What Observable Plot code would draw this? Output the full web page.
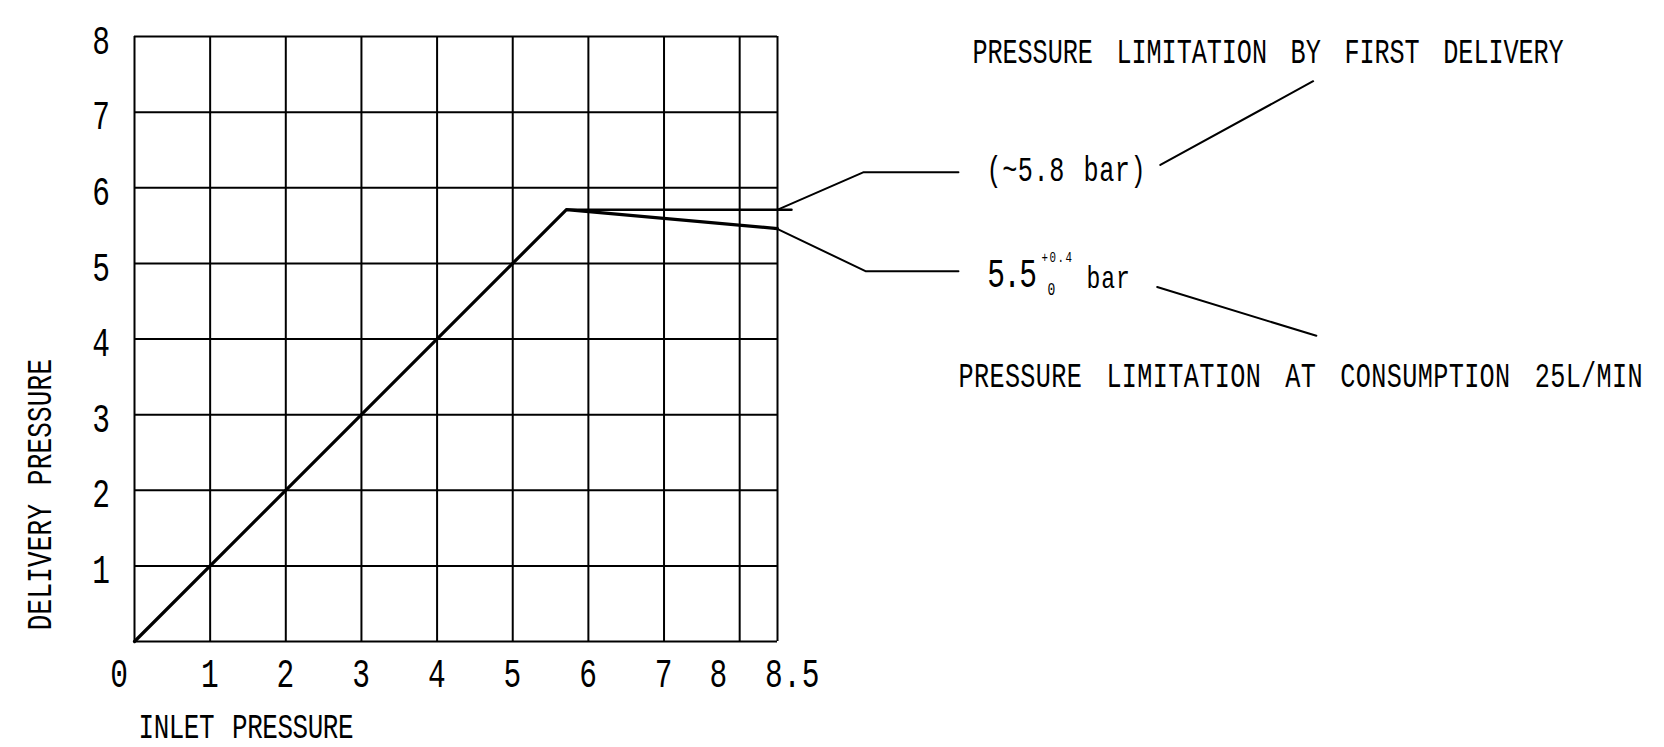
<!DOCTYPE html>
<html>
<head>
<meta charset="utf-8">
<script src="https://cdn.jsdelivr.net/npm/d3@7"></script>
<script src="https://cdn.jsdelivr.net/npm/@observablehq/plot@0.6"></script>
<style>
  html, body { margin: 0; padding: 0; background: #fff; }
  svg { display: block; }
</style>
</head>
<body>
<script>
// ---- data ----
const xGrid = [0, 1, 2, 3, 4, 5, 6, 7, 8, 8.5];
const yGrid = [0, 1, 2, 3, 4, 5, 6, 7, 8];
const xTickMain = [1, 2, 3, 4, 5, 6, 7];
const xTickMainLabels = ["1", "2", "3", "4", "5", "6", "7"];
const yTickValues = [1, 2, 3, 4, 5, 6, 7, 8];
const yTickLabels = ["1", "2", "3", "4", "5", "6", "7", "8"];

// characteristic curve: inlet pressure -> delivery pressure
const inletPressure = [0, 5.71, 8.5];
const deliveryPressure = [0, 5.71, 5.46];

// limitation by first delivery (horizontal reference)
const firstDeliveryX = [5.71, 8.685];
const firstDeliveryY = [5.71, 5.71];

// leader lines (in chart units)
const leaderUpperX = [8.496, 9.64, 10.892];
const leaderUpperY = [5.708, 6.206, 6.206];
const leaderLowerX = [8.496, 9.663, 10.892];
const leaderLowerY = [5.457, 4.897, 4.897];
const pointerUpperX = [13.561, 15.581];
const pointerUpperY = [6.301, 7.409];
const pointerLowerX = [13.519, 15.623];
const pointerLowerY = [4.688, 4.042];

const titleX = "INLET PRESSURE";
const titleY = "DELIVERY PRESSURE";
const noteTop = "PRESSURE LIMITATION BY FIRST DELIVERY";
const noteBottom = "PRESSURE LIMITATION AT CONSUMPTION 25L/MIN";
const noteFirst = "(~5.8 bar)";
const noteNominal = "5.5";
const noteTolUp = "+0.4";
const noteTolDown = "0";
const noteUnit = "bar";

const pairs = (xs, ys) => xs.map((x, i) => [x, ys[i]]);

const FONT = "Liberation Mono";
const INK = "#000";

const svg = Plot.plot({
  width: 1664,
  height: 747,
  marginLeft: 134,
  marginRight: 887,
  marginTop: 36,
  marginBottom: 106,
  style: { background: "#fff", fontFamily: FONT, color: INK },
  x: { domain: [0, 8.5], axis: null },
  y: { domain: [0, 8], axis: null },
  marks: [
    Plot.ruleX(xGrid, { stroke: INK, strokeWidth: 2 }),
    Plot.ruleY(yGrid, { stroke: INK, strokeWidth: 2 }),
    Plot.line(pairs(inletPressure, deliveryPressure), { stroke: INK, strokeWidth: 3.2, strokeLinejoin: "miter" }),
    Plot.line(pairs(firstDeliveryX, firstDeliveryY), { stroke: INK, strokeWidth: 2.5 }),
    Plot.line(pairs(leaderUpperX, leaderUpperY), { stroke: INK, strokeWidth: 2 }),
    Plot.line(pairs(leaderLowerX, leaderLowerY), { stroke: INK, strokeWidth: 2 }),
    Plot.line(pairs(pointerUpperX, pointerUpperY), { stroke: INK, strokeWidth: 2 }),
    Plot.line(pairs(pointerLowerX, pointerLowerY), { stroke: INK, strokeWidth: 2 }),

    // y tick labels
    Plot.text(yTickValues, { x: 0, y: d => d, text: (d, i) => yTickLabels[i], dx: -33, dy: 4, fontSize: 41, fill: INK, ariaDescription: "ticks" }),
    // x tick labels
    Plot.text(xTickMain, { x: d => d, y: 0, text: (d, i) => xTickMainLabels[i], dy: 32, fontSize: 41, fill: INK, ariaDescription: "ticks" }),
    Plot.text([0], { x: d => d, y: 0, text: ["0"], dx: -15, dy: 32, fontSize: 41, fill: INK, ariaDescription: "ticks" }),
    Plot.text([8], { x: d => d, y: 0, text: ["8"], dx: -21, dy: 32, fontSize: 41, fill: INK, ariaDescription: "ticks" }),
    Plot.text([8.5], { x: d => d, y: 0, text: ["8.5"], dx: 15, dy: 32, fontSize: 41, fill: INK, ariaDescription: "ticks" }),

    // axis titles
    Plot.text([titleX], { x: 0.053, y: -1.124, text: d => d, textAnchor: "start", fontSize: 36, fill: INK, ariaDescription: "titleX" }),
    Plot.text([titleY], { x: -1.256, y: 1.944, text: d => d, rotate: -90, fontSize: 36, fill: INK, ariaDescription: "titleY" }),

    // annotations
    Plot.text([noteTop], { x: 11.077, y: 7.802, text: d => d, textAnchor: "start", fontSize: 35, fill: INK, ariaDescription: "notesTop" }),
    Plot.text([noteBottom], { x: 10.892, y: 3.517, text: d => d, textAnchor: "start", fontSize: 35, fill: INK, ariaDescription: "notesBottom" }),
    Plot.text([noteFirst], { x: 11.262, y: 6.232, text: d => d, textAnchor: "start", fontSize: 35, fill: INK, ariaDescription: "first" }),
    Plot.text([noteNominal], { x: 11.272, y: 4.866, text: d => d, textAnchor: "start", fontSize: 41, fill: INK, ariaDescription: "nominal" }),
    Plot.text([noteTolUp], { x: 11.99, y: 5.08, text: d => d, textAnchor: "start", fontSize: 15, fill: INK, ariaDescription: "tol" }),
    Plot.text([noteTolDown], { x: 12.07, y: 4.655, text: d => d, textAnchor: "start", fontSize: 18, fill: INK, ariaDescription: "tol" }),
    Plot.text([noteUnit], { x: 12.584, y: 4.816, text: d => d, textAnchor: "start", fontSize: 32, fill: INK, ariaDescription: "unit" })
  ]
});

// narrow technical lettering: condense glyphs horizontally and space them out
const lettering = {
  ticks: { ls: 0.9, ws: 0 },
  titleX: { ls: -0.6, ws: 4 },
  titleY: { ls: 0.34, ws: 4 },
  notesTop: { ls: -0.1, ws: 12 },
  notesBottom: { ls: 0.5, ws: 12 },
  first: { ls: 0.8, ws: 4 },
  nominal: { ls: -2.4, ws: 0 },
  tol: { ls: 2.1, ws: 0 },
  unit: { ls: 1.3, ws: 0 }
};
const SX = 0.72;
svg.querySelectorAll("text").forEach(t => {
  const g = t.closest("[aria-description]");
  const st = g ? lettering[g.getAttribute("aria-description")] : null;
  if (!st) return;
  t.setAttribute("letter-spacing", st.ls);
  t.setAttribute("word-spacing", st.ws);
  let tr = t.getAttribute("transform") || "";
  if (t.hasAttribute("x")) {
    const x = t.getAttribute("x");
    t.removeAttribute("x");
    tr = `translate(${x},0) ` + tr;
  }
  t.setAttribute("transform", (tr + ` scale(${SX},1)`).trim());
});

document.body.appendChild(svg);
</script>
</body>
</html>
